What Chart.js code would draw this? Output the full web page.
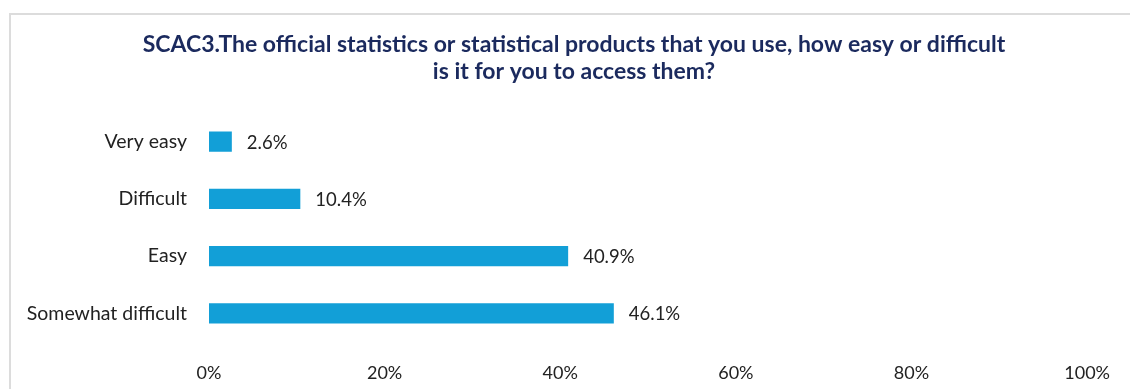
<!DOCTYPE html>
<html>
<head>
<meta charset="utf-8">
<script src="https://cdn.jsdelivr.net/npm/chart.js@4/dist/chart.umd.min.js"></script>
<style>
  html, body { margin: 0; padding: 0; background: #fff; }
  #wrap { position: relative; width: 1130px; height: 389px; }
  #frame { position: absolute; left: 9px; top: 13px; right: 0; bottom: 0;
           border-left: 2px solid #dcdcdc; border-top: 2px solid #dcdcdc; }
  canvas { position: absolute; left: 0; top: 0; }
</style>
</head>
<body>
<div id="wrap">
  <div id="frame"></div>
  <canvas id="chart" width="1130" height="389"></canvas>
</div>
<script>
const categories = ["Very easy", "Difficult", "Easy", "Somewhat difficult"]
const shares = [2.6, 10.4, 40.9, 46.1]
const xTicks = [0, 20, 40, 60, 80, 100]
const titleLines = [
  "SCAC3.The official statistics or statistical products that you use, how easy or difficult",
  "is it for you to access them?"
]

const FONT = "Lato, 'Open Sans', sans-serif"

// two-line heading, centred a little right of the canvas middle
const heading = {
  id: "heading",
  afterDraw(chart) {
    const ctx = chart.ctx
    ctx.save()
    ctx.font = "bold 23px " + FONT
    ctx.fillStyle = "#1b2a5e"
    ctx.textAlign = "center"
    ctx.textBaseline = "middle"
    titleLines.forEach((line, i) => ctx.fillText(line, 574, 45 + i * 27))
    ctx.restore()
  }
}

// value labels just right of each bar
const barValues = {
  id: "barValues",
  afterDatasetsDraw(chart) {
    const ctx = chart.ctx
    const meta = chart.getDatasetMeta(0)
    ctx.save()
    ctx.font = "18.5px " + FONT
    ctx.fillStyle = "#222"
    ctx.textAlign = "left"
    ctx.textBaseline = "middle"
    meta.data.forEach((bar, i) => {
      ctx.fillText(shares[i].toFixed(1) + "%", bar.x + 15, bar.y + 1)
    })
    ctx.restore()
  }
}

new Chart(document.getElementById("chart"), {
  type: "bar",
  data: {
    labels: categories,
    datasets: [{
      data: shares,
      backgroundColor: "#129fd7",
      barPercentage: 0.7,
      categoryPercentage: 0.5
    }]
  },
  options: {
    indexAxis: "y",
    responsive: false,
    animation: false,
    layout: { padding: { left: 0, right: 37, top: 113, bottom: 0 } },
    plugins: {
      legend: { display: false },
      tooltip: { enabled: false },
      title: { display: false }
    },
    scales: {
      x: {
        min: 0,
        max: 100,
        afterBuildTicks(scale) {
          scale.ticks = xTicks.map(v => ({ value: v }))
        },
        afterFit(scale) { scale.height = 47 },
        grid: { display: false, drawTicks: false },
        border: { display: false },
        ticks: {
          callback: v => v + "%",
          color: "#222",
          padding: 20,
          maxRotation: 0,
          font: { family: FONT, size: 18 }
        }
      },
      y: {
        afterFit(scale) { scale.width = 209 },
        grid: { display: false, drawTicks: false },
        border: { display: false },
        ticks: {
          color: "#222",
          padding: 22,
          font: { family: FONT, size: 19.5 }
        }
      }
    }
  },
  plugins: [barValues, heading]
})
</script>
</body>
</html>
